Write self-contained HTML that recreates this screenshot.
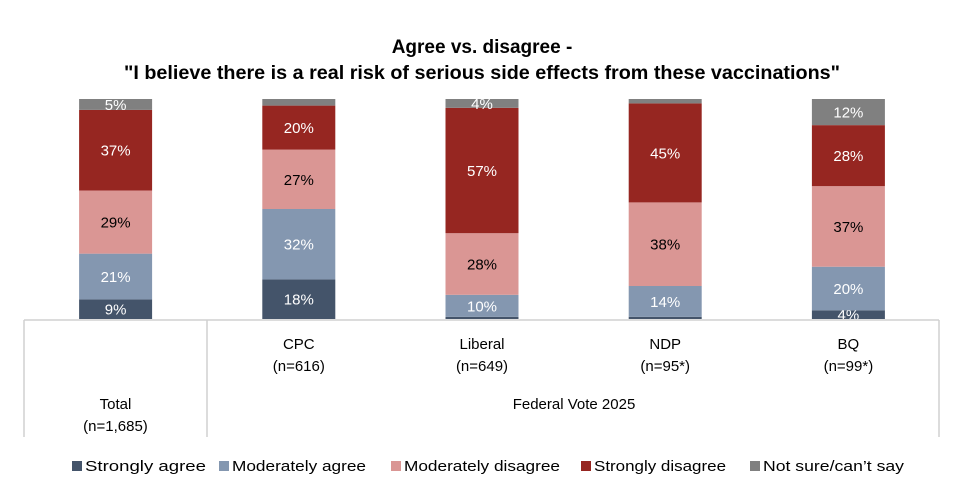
<!DOCTYPE html>
<html><head><meta charset="utf-8"><style>
body{margin:0;background:#fff;}
svg{display:block;font-family:"Liberation Sans",sans-serif;}
</style></head><body>
<svg id="chart" width="964" height="497" viewBox="0 0 964 497">
<text x="482" y="53" text-anchor="middle" font-size="19" font-weight="bold" fill="#000">Agree vs. disagree -</text>
<text x="482" y="79" text-anchor="middle" font-size="19" font-weight="bold" fill="#000" textLength="716" lengthAdjust="spacingAndGlyphs">"I believe there is a real risk of serious side effects from these vaccinations"</text>
<g id="bars"></g>
<g id="axis" stroke="#d0d0d0" stroke-width="1.5" fill="none">
<line x1="24" y1="320" x2="939" y2="320"/>
<line x1="24" y1="320" x2="24" y2="437"/>
<line x1="207" y1="320" x2="207" y2="437"/>
<line x1="939" y1="320" x2="939" y2="437"/>
</g>
<g id="cats" font-size="15" fill="#000" text-anchor="middle"></g>
<text x="115.5" y="409" font-size="15" text-anchor="middle">Total</text>
<text x="115.5" y="431" font-size="15" text-anchor="middle">(n=1,685)</text>
<text x="574" y="409" font-size="15" text-anchor="middle">Federal Vote 2025</text>
<g id="legend" font-size="15"></g>
</svg>
<script>
const categories = ["Total","CPC","Liberal","NDP","BQ"];
const sampleLabels = ["","(n=616)","(n=649)","(n=95*)","(n=99*)"];
const seriesNames = ["Strongly agree","Moderately agree","Moderately disagree","Strongly disagree","Not sure/can\u2019t say"];
const stronglyAgree = [9,18,1,1,4];
const moderatelyAgree = [21,32,10,14,20];
const moderatelyDisagree = [29,27,28,38,37];
const stronglyDisagree = [37,20,57,45,28];
const notSure = [5,3,4,2,12];
const seriesData = [stronglyAgree,moderatelyAgree,moderatelyDisagree,stronglyDisagree,notSure];
const colors = ["#44546a","#8497b0","#da9694","#962621","#808080"];
const labelColors = ["#fff","#fff","#000","#fff","#fff"];
const NS="http://www.w3.org/2000/svg";
const plotTop=99, plotBottom=319, bandStart=24, bandW=183.2, barW=73;
function xCenter(i){return bandStart+bandW*(i+0.5);}
function yScale(frac){return plotBottom-frac*(plotBottom-plotTop);}
const bars=document.getElementById('bars');
categories.forEach((c,i)=>{
  let total=0; seriesData.forEach(s=>total+=s[i]);
  let cum=0;
  seriesData.forEach((s,k)=>{
    const v=s[i];
    const y0=yScale(cum/total), y1=yScale((cum+v)/total);
    const r=document.createElementNS(NS,'rect');
    
    
    r.setAttribute('x',xCenter(i)-barW/2);r.setAttribute('y',y1);
    r.setAttribute('width',barW);r.setAttribute('height',y0-y1);
    r.setAttribute('fill',colors[k]);bars.appendChild(r);
    if(v>=4){
      const t=document.createElementNS(NS,'text');
      
      
      t.setAttribute('x',xCenter(i));t.setAttribute('y',(y0+y1)/2+5.5);
      t.setAttribute('text-anchor','middle');t.setAttribute('font-size','15');
      t.setAttribute('fill',labelColors[k]);t.textContent=v+'%';bars.appendChild(t);
    }
    cum+=v;
  });
});
const cats=document.getElementById('cats');
categories.forEach((c,i)=>{
  if(i===0)return;
  const t=document.createElementNS(NS,'text');
  
  
  t.setAttribute('x',xCenter(i));t.setAttribute('y',349);t.textContent=c;cats.appendChild(t);
  const t2=document.createElementNS(NS,'text');
  
  
  t2.setAttribute('x',xCenter(i));t2.setAttribute('y',371);t2.textContent=sampleLabels[i];cats.appendChild(t2);
});
const legend=document.getElementById('legend');
const legX=[72,219,391,581,750];
const legW=[121,134,156,132,141];
seriesNames.forEach((n,k)=>{
  const r=document.createElementNS(NS,'rect');
  
  
  r.setAttribute('x',legX[k]);r.setAttribute('y',461);r.setAttribute('width',10);r.setAttribute('height',10);
  r.setAttribute('fill',colors[k]);legend.appendChild(r);
  const t=document.createElementNS(NS,'text');
  
  
  t.setAttribute('x',legX[k]+13);t.setAttribute('y',471);
  t.setAttribute('textLength',legW[k]);t.setAttribute('lengthAdjust','spacingAndGlyphs');
  t.textContent=n;legend.appendChild(t);
});
</script>
</body></html>
